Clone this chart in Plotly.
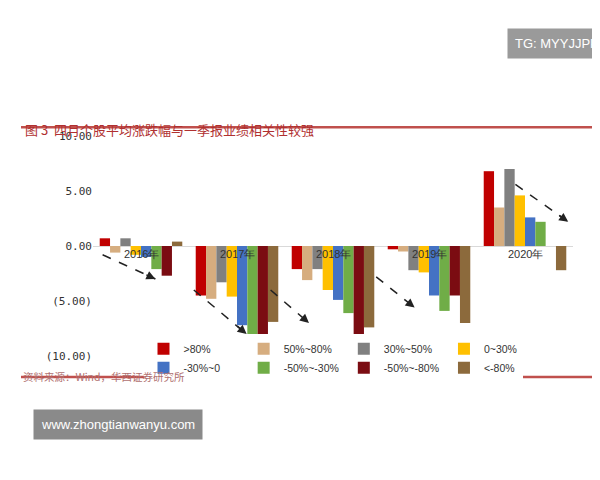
import plotly.graph_objects as go

years = ["2016年", "2017年", "2018年", "2019年", "2020年"]
series_names = [">80%", "50%~80%", "30%~50%", "0~30%", "-30%~0", "-50%~-30%", "-50%~-80%", "<-80%"]
values = [
    [0.7, -4.5, -2.1, -0.3, 6.8],
    [-0.6, -4.8, -3.1, -0.5, 3.5],
    [0.7, -3.3, -2.1, -2.2, 7.0],
    [-0.8, -4.6, -4.0, -2.4, 4.6],
    [-1.0, -7.2, -4.9, -4.5, 2.6],
    [-2.1, -9.0, -6.1, -5.9, 2.2],
    [-2.7, -8.4, -8.2, -4.5, 0.0],
    [0.4, -6.9, -7.4, -7.0, -2.2],
]
colors = ["#c00000", "#d6ad7f", "#808080", "#ffc000", "#4472c4", "#70ad47", "#7b0c12", "#8c6a3c"]
tick_vals = [10, 5, 0, -5, -10]
tick_text = ["10.00", "5.00", "0.00", "(5.00)", "(10.00)"]

fig = go.Figure()
for name, vals, c in zip(series_names, values, colors):
    fig.add_trace(go.Bar(x=years, y=vals, name=name, marker_color=c, marker_line_width=0))

fig.update_layout(
    width=600, height=480, paper_bgcolor="white", plot_bgcolor="white",
    margin=dict(l=85, r=35, t=128, b=132),
    barmode="group", bargap=0.14, bargroupgap=0.0,
    font=dict(family="Liberation Sans, Arial", size=11, color="#333"),
    showlegend=True,
    legend=dict(orientation="h", x=0.5, xanchor="center", y=-0.01, yanchor="middle",
                font=dict(size=10.5), itemwidth=30, tracegroupgap=0),
    xaxis=dict(showticklabels=False, showline=False, showgrid=False),
    yaxis=dict(range=[-10, 10], tickvals=tick_vals, ticktext=tick_text, showgrid=False,
               zeroline=True, zerolinecolor="#d9d9d9", zerolinewidth=1, ticks="",
               tickfont=dict(family="DejaVu Sans Mono", size=11, color="#333")),
)
for y in years:
    fig.add_annotation(x=y, y=-0.75, text=y, showarrow=False, font=dict(size=11, color="#333"))

fig.add_annotation(xref="paper", yref="paper", x=-0.145, y=1.08, xanchor="left",
                   text="图 3  四月个股平均涨跌幅与一季报业绩相关性较强", showarrow=False,
                   font=dict(family="Noto Sans CJK SC", size=13, color="#b03030"))
fig.add_shape(type="line", xref="paper", yref="paper", x0=-0.15, x1=1.06, y0=1.04, y1=1.04,
              line=dict(color="#c0504d", width=2.5))
fig.add_shape(type="line", xref="paper", yref="paper", x0=-0.15, x1=1.06, y0=-0.095, y1=-0.095,
              line=dict(color="#c0504d", width=2.5))
fig.add_annotation(xref="paper", yref="paper", x=-0.15, y=-0.135, xanchor="left",
                   text="资料来源：Wind，华西证券研究所", showarrow=False,
                   font=dict(family="Noto Sans CJK SC", size=10.5, color="#b07070"))

W, H = 480, 220
arrows = [(0.02, 0.46, 0.13, 0.35), (0.21, 0.30, 0.32, 0.10), (0.37, 0.30, 0.45, 0.15),
          (0.59, 0.36, 0.67, 0.22), (0.88, 0.78, 0.99, 0.61)]
for x0, y0, x1, y1 in arrows:
    fig.add_shape(type="line", xref="paper", yref="paper", x0=x0, y0=y0, x1=x1, y1=y1,
                  line=dict(color="#222", width=1.5, dash="dash"))
    fig.add_annotation(xref="paper", yref="paper", x=x1, y=y1,
                       ax=-(x1 - x0) * W * 0.2, ay=(y1 - y0) * H * 0.2,
                       text="", showarrow=True, arrowhead=2, arrowsize=1.2, arrowwidth=1.5, arrowcolor="#222")

fig.add_annotation(xref="paper", yref="paper", x=1.07, y=1.49, xanchor="right", text="TG: MYYJJPP",
                   showarrow=False, bgcolor="#9a9a9a", font=dict(color="white", size=13), borderpad=7)
fig.add_annotation(xref="paper", yref="paper", x=-0.125, y=-0.38, xanchor="left",
                   text="www.zhongtianwanyu.com", showarrow=False, bgcolor="#8a8a8a",
                   font=dict(color="white", size=13), borderpad=7)

fig.write_html("out.html")
